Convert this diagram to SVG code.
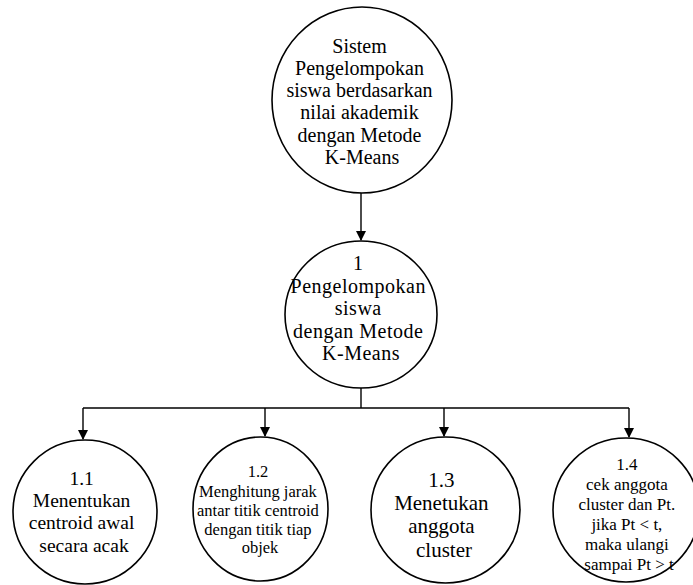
<svg xmlns="http://www.w3.org/2000/svg" width="693" height="585" viewBox="0 0 693 585">
  <style>
    .bubble { fill: #fff; stroke: #000; stroke-width: 1.6; }
    .lbl { fill: #000; text-anchor: middle; }
    .wire { fill: none; stroke: #000; stroke-width: 1.4; }
  </style>
  <defs>
    <marker id="arrow" markerWidth="10" markerHeight="12" refX="9" refY="5" orient="auto" markerUnits="userSpaceOnUse" viewBox="0 0 10 10">
      <path d="M0,0 L10,5 L0,10 z" fill="#000"/>
    </marker>
  </defs>

  <!-- connectors -->
  <g id="connectors">
    <path class="wire" d="M361,193 L361,240" marker-end="url(#arrow)"/>
    <path class="wire" d="M361,388 L361,408"/>
    <path class="wire" d="M83,408 L629,408"/>
    <path class="wire" d="M83,408 L83,439" marker-end="url(#arrow)"/>
    <path class="wire" d="M265,408 L265,436" marker-end="url(#arrow)"/>
    <path class="wire" d="M444,408 L444,436" marker-end="url(#arrow)"/>
    <path class="wire" d="M629,408 L629,437" marker-end="url(#arrow)"/>
  </g>

  <g font-family="'Liberation Serif', 'Times New Roman', Times, serif">
  <!-- top-level system -->
  <g id="node-0">
    <ellipse class="bubble" cx="362" cy="100" rx="90" ry="93"/>
    <text class="lbl" font-size="20">
      <tspan x="362" y="53">Sistem</tspan>
      <tspan x="362" y="75">Pengelompokan</tspan>
      <tspan x="362" y="97">siswa berdasarkan</tspan>
      <tspan x="362" y="119">nilai akademik</tspan>
      <tspan x="362" y="142">dengan Metode</tspan>
      <tspan x="362" y="164">K-Means</tspan>
    </text>
  </g>

  <!-- process 1 -->
  <g id="node-1">
    <ellipse class="bubble" cx="361" cy="314.5" rx="76" ry="73.5"/>
    <text class="lbl" font-size="20" letter-spacing="0.5">
      <tspan x="361" y="270">1</tspan>
      <tspan x="361" y="293">Pengelompokan</tspan>
      <tspan x="361" y="315">siswa</tspan>
      <tspan x="361" y="338">dengan Metode</tspan>
      <tspan x="361" y="360">K-Means</tspan>
    </text>
  </g>

  <!-- sub-process 1.1 -->
  <g id="node-1-1">
    <ellipse class="bubble" cx="85" cy="512" rx="72" ry="72"/>
    <text class="lbl" font-size="19.5">
      <tspan x="84" y="485">1.1</tspan>
      <tspan x="84" y="507">Menentukan</tspan>
      <tspan x="84" y="529">centroid awal</tspan>
      <tspan x="84" y="552">secara acak</tspan>
    </text>
  </g>

  <!-- sub-process 1.2 -->
  <g id="node-1-2">
    <ellipse class="bubble" cx="260.5" cy="509" rx="67.5" ry="72"/>
    <text class="lbl" font-size="16.5">
      <tspan x="260" y="477">1.2</tspan>
      <tspan x="260" y="497">Menghitung jarak</tspan>
      <tspan x="260" y="516">antar titik centroid</tspan>
      <tspan x="260" y="535">dengan titik tiap</tspan>
      <tspan x="260" y="553">objek</tspan>
    </text>
  </g>

  <!-- sub-process 1.3 -->
  <g id="node-1-3">
    <ellipse class="bubble" cx="445.5" cy="510" rx="74.5" ry="73"/>
    <text class="lbl" font-size="21">
      <tspan x="444" y="487">1.3</tspan>
      <tspan x="444" y="510">Menetukan</tspan>
      <tspan x="444" y="533">anggota</tspan>
      <tspan x="444" y="557">cluster</tspan>
    </text>
  </g>

  <!-- sub-process 1.4 -->
  <g id="node-1-4">
    <ellipse class="bubble" cx="626" cy="510" rx="73" ry="72"/>
    <text class="lbl" font-size="17">
      <tspan x="629" y="470">1.4</tspan>
      <tspan x="629" y="490">cek anggota</tspan>
      <tspan x="629" y="510">cluster dan Pt.</tspan>
      <tspan x="629" y="530">jika Pt &lt; t,</tspan>
      <tspan x="629" y="550">maka ulangi</tspan>
      <tspan x="629" y="570">sampai Pt &gt; t</tspan>
    </text>
  </g>
  </g>
</svg>
